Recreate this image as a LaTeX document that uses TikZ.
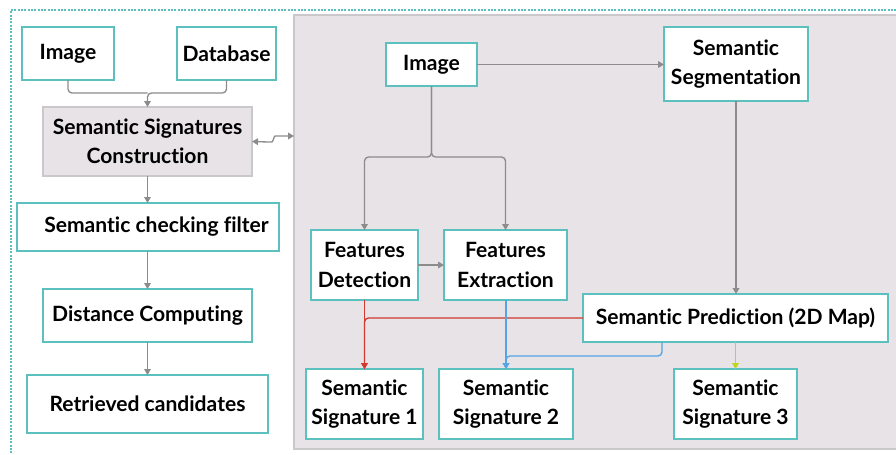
\documentclass[tikz,border=0pt]{standalone}
\usepackage{fontspec}
\setmainfont{Lato}[Ligatures={NoCommon}]
\usetikzlibrary{arrows.meta}
\definecolor{tealbd}{RGB}{92,192,190}
\definecolor{panelfill}{RGB}{231,227,230}
\definecolor{panelbd}{RGB}{202,200,202}
\definecolor{connc}{RGB}{140,140,140}
\definecolor{redc}{RGB}{208,58,48}
\definecolor{bluec}{RGB}{84,164,232}
\definecolor{limec}{RGB}{192,212,30}
\tikzset{
  box/.style={draw=tealbd, line width=1.1pt, fill=white, inner sep=0pt, outer sep=0pt,
    align=center, font=\fontsize{15.8}{22}\selectfont\bfseries},
  graybox/.style={box, draw=panelbd, fill=panelfill},
  tipc/.style={-{Triangle[length=4.5pt,width=5pt]}},
  conn/.style={draw=connc, line width=1pt, rounded corners=3pt},
}
% node placed by its corner coordinates (pixel units)
\newcommand\bx[7]{\node[#6, minimum width={(#4-#2)*0.75pt}, minimum height={(#5-#3)*0.75pt}] (#1) at ({(#2+#4)/2},{(#3+#5)/2+1}) {#7};}
\begin{document}
\begin{tikzpicture}[x=0.75pt, y=-0.75pt]
\useasboundingbox (0,0) rectangle (896,454);
% outer dashed frame
\draw[tealbd, line width=0.8pt, dash pattern=on 1.5pt off 1pt] (11,460) -- (11,10) -- (900,10);
% right-hand panel
\draw[panelbd, fill=panelfill, line width=1.2pt] (294,15) rectangle (905,449);
\coordinate (pin) at (294,136);

% left column
\bx{img1}{22}{26}{114}{79}{box}{Image}
\bx{db}{177}{26}{276}{79}{box}{Database}
\bx{ssc}{43}{106}{252}{175}{graybox}{Semantic Signatures\\Construction}
\bx{scf}{17}{202}{279}{250}{box}{\hspace*{12.75pt}Semantic checking filter}
\bx{dc}{43}{288}{252}{341}{box}{Distance Computing}
\bx{rc}{27}{374}{268}{432}{box}{Retrieved candidates}

% right panel
\bx{img2}{386}{42}{477}{85}{box}{Image}
\bx{seg}{664}{26}{808}{100}{box}{Semantic\\Segmentation}
\bx{fd}{311}{229}{418}{299}{box}{Features\\Detection}
\bx{fe}{444}{229}{567}{299}{box}{Features\\Extraction}
\bx{sp}{583}{293}{888}{341}{box}{Semantic Prediction (2D Map)}
\bx{ss1}{306}{368}{423}{438}{box}{Semantic\\Signature 1}
\bx{ss2}{439}{368}{573}{438}{box}{Semantic\\Signature 2}
\bx{ss3}{674}{368}{797}{438}{box}{Semantic\\Signature 3}

% left connectors
\draw[conn] (img1.south) |- (147.5,93);
\draw[conn, tipc] (db.south) |- (147.5,93) -- (ssc.north);
\draw[conn, {Triangle[length=4.5pt,width=5pt]}-{Triangle[length=4.5pt,width=5pt]}]
  (ssc.east) -- (268,142) to[out=0,in=180] (279,136) -- (pin);
\draw[conn, tipc] (ssc.south) -- (ssc.south |- scf.north);
\draw[conn, tipc] (scf.south -| ssc.south) -- (dc.north);
\draw[conn, tipc] (dc.south) -- (rc.north);

% right connectors
\draw[conn, tipc] (img2.east) -- (seg.west |- img2.east);
\draw[conn, tipc] (img2.south) -- (431.5,157) -| (fd.north);
\draw[conn, tipc] (img2.south) -- (431.5,157) -| (fe.north);
\draw[conn, tipc] (seg.south) -- (seg.south |- sp.north);
\draw[conn, tipc] (fd.east) -- (fe.west);
\draw[conn, draw=redc, tipc] (sp.west) -| (ss1.north);
\draw[conn, draw=redc, tipc] (fd.south) -- (ss1.north);
\draw[conn, draw=bluec, tipc] ([xshift=59.25pt]sp.south west) |- (506,356) -- (ss2.north);
\draw[conn, draw=bluec, tipc] (fe.south -| ss2.north) -- (ss2.north);
\draw[conn, draw=limec, line width=1.2pt, tipc] (sp.south) -- (ss3.north);
\end{tikzpicture}
\end{document}
